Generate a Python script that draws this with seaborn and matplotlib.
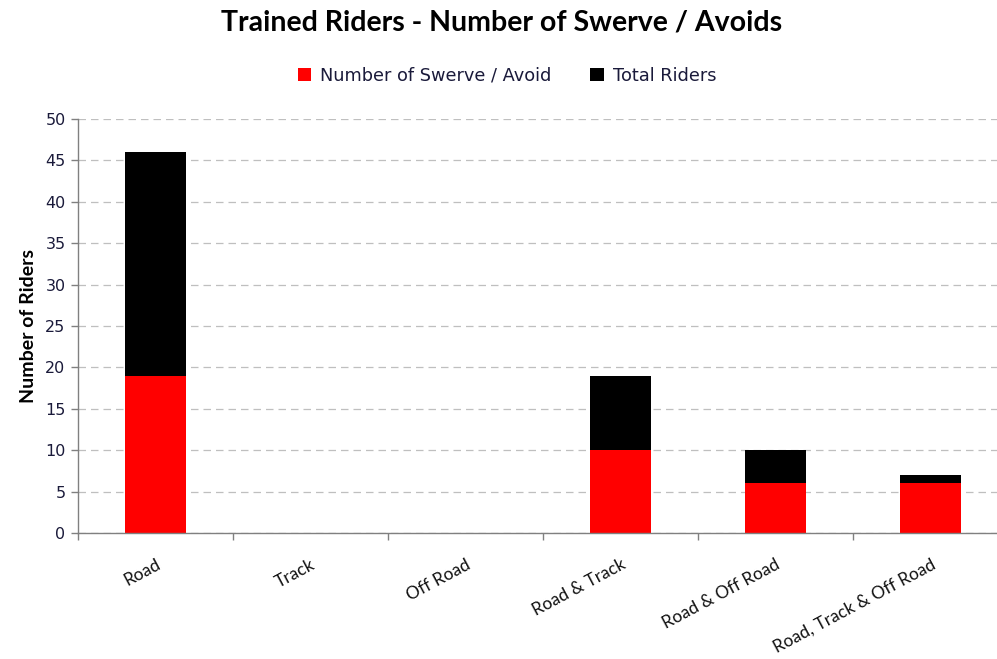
import matplotlib
matplotlib.use("Agg")
import matplotlib.pyplot as plt
import seaborn as sns
import pandas as pd

categories = ["Road", "Track", "Off Road", "Road & Track", "Road & Off Road", "Road, Track & Off Road"]
swerve = [19, 0, 0, 10, 6, 6]
total = [46, 0, 0, 19, 10, 7]
yticks = [0, 5, 10, 15, 20, 25, 30, 35, 40, 45, 50]

df = pd.DataFrame({"cat": categories, "swerve": swerve, "total": total})

sns.set_theme(style="white")
plt.rcParams["font.family"] = ["DejaVu Sans"]

fig = plt.figure(figsize=(9.97, 6.59), dpi=100)
W, H = 997, 659
ax = fig.add_axes([78 / W, 1 - 533 / H, 930 / W, (533 - 119) / H])

sns.barplot(data=df, x="cat", y="total", color="#000000", width=0.39, ax=ax,
            saturation=1, label="Total Riders", order=categories)
sns.barplot(data=df, x="cat", y="swerve", color="#FF0000", width=0.39, ax=ax,
            saturation=1, label="Number of Swerve / Avoid", order=categories)
for p in ax.patches:
    p.set_edgecolor("none")

ax.set_xlim(-0.5, 5.5)
ax.set_ylim(0, 50)
ax.set_yticks(yticks)
ax.set_yticklabels([str(v) for v in yticks], fontsize=11.5, color="#1a1a3a")
ax.yaxis.grid(True, linestyle=(0, (6, 4)), color="#bfbfbf", linewidth=0.9)
ax.set_axisbelow(True)

ax.set_xticks(range(len(categories)))
ax.set_xticklabels(categories, rotation=28, ha="right", rotation_mode="anchor",
                   fontsize=12.5, family="Lato", color="#111111")
ax.tick_params(axis="x", length=0, pad=17)
# category boundary ticks
ax.set_xticks([i - 0.5 for i in range(len(categories) + 1)], minor=True)
ax.tick_params(axis="x", which="minor", length=5, color="#808080", width=1, direction="out", bottom=True)
ax.tick_params(axis="y", length=5, color="#808080", width=1, direction="out", left=True, pad=4)

for s in ["top", "right"]:
    ax.spines[s].set_visible(False)
for s in ["left", "bottom"]:
    ax.spines[s].set_color("#808080")
    ax.spines[s].set_linewidth(1)

ax.set_xlabel("")
ax.set_ylabel("Number of Riders", fontsize=14, fontweight="bold", family="Lato", labelpad=6,
              color="#000000")

fig.text(502 / W, 1 - 22 / H, "Trained Riders - Number of Swerve / Avoids", ha="center", va="center",
         fontsize=20.5, fontweight="bold", family="Lato", color="#000000")

handles, labels = ax.get_legend_handles_labels()
order = [labels.index("Number of Swerve / Avoid"), labels.index("Total Riders")]
leg = fig.legend([handles[i] for i in order], [labels[i] for i in order],
                 loc="center", bbox_to_anchor=(507 / W, 1 - 76 / H), ncol=2, frameon=False,
                 fontsize=12.8, handlelength=0.75, handleheight=0.75, handletextpad=0.5, columnspacing=2.2)
for t in leg.get_texts():
    t.set_color("#1a1a3a")
if ax.get_legend() is not None:
    ax.get_legend().remove()

fig.savefig("out.png", dpi=100)
